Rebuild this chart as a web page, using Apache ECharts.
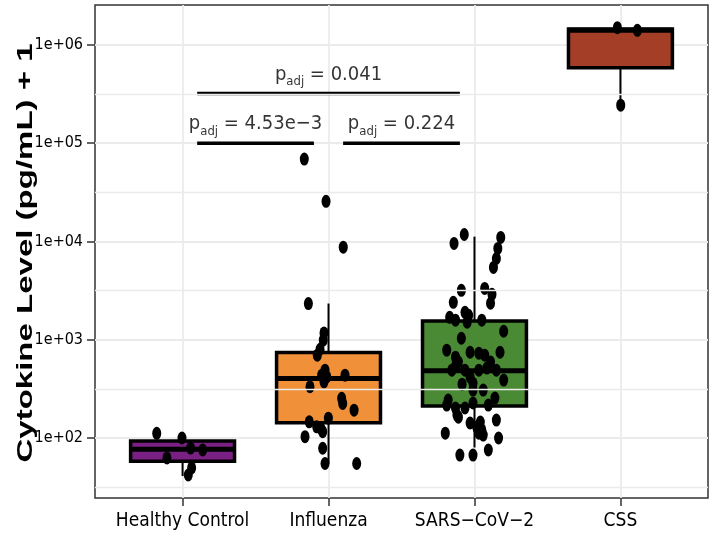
<!DOCTYPE html>
<html>
<head>
<meta charset="utf-8">
<script src="https://cdn.jsdelivr.net/npm/echarts@6/dist/echarts.min.js"></script>
<style>
  html, body { margin: 0; padding: 0; background: #fff; }
  #chart { width: 717px; height: 543px; }
</style>
</head>
<body>
<div id="chart"></div>
<script>
var groups = ['Healthy Control', 'Influenza', 'SARS−CoV−2', 'CSS'];
var boxColors = ['#7a1f83', '#f0913a', '#4a8a35', '#a53e27'];

// [min, Q1, median, Q3, max]
var boxStats = [
  [41, 58, 77, 93, 112],
  [55, 143, 404, 741, 2335],
  [80, 211, 482, 1552, 11200],
  [244000, 586000, 1410000, 1450000, 1500000]
];

// [horizontal jitter, value]
var hcPoints = [
  [-0.177, 111.6], [-0.107, 62.6], [-0.004, 100], [0.055, 79],
  [0.138, 75.5], [0.039, 42], [0.062, 49.6]
];
var fluPoints = [
  [-0.166, 69000], [-0.017, 25600], [0.101, 8750], [-0.138, 2335],
  [-0.031, 1172], [-0.036, 990], [-0.077, 697], [-0.058, 800],
  [-0.024, 490], [-0.047, 436], [-0.012, 419], [-0.031, 373],
  [0.113, 436], [-0.127, 332], [0.09, 253], [0.097, 225],
  [0.175, 192], [-0.132, 146], [-0.081, 130], [-0.001, 159],
  [-0.04, 116], [-0.053, 125], [-0.161, 103], [-0.04, 78.6],
  [-0.024, 55], [0.193, 55]
];
var sarsPoints = [
  [-0.07, 11780], [-0.14, 9550], [0.18, 10990], [0.16, 8490], [0.15, 6710], [0.13, 5440],
  [-0.09, 3180], [-0.145, 2400], [0.07, 3330], [0.12, 2900], [0.11, 2350], [-0.17, 1690],
  [-0.13, 1580], [-0.065, 1900], [-0.04, 1770], [-0.05, 1510], [0.05, 1580],
  [0.2, 1220], [-0.09, 1035], [-0.19, 782], [-0.13, 664], [-0.03, 746], [0.03, 730],
  [0.07, 697], [0.175, 746], [-0.155, 490], [-0.065, 490], [-0.03, 416], [-0.01, 361],
  [0.03, 490], [0.085, 514], [0.15, 490], [0.2, 388], [-0.01, 307], [-0.18, 243],
  [-0.19, 216], [-0.13, 202], [-0.11, 163], [-0.065, 202], [-0.01, 227], [0.095, 216],
  [0.14, 255], [0.15, 152], [-0.03, 142], [0.015, 129], [0.05, 121], [0.06, 107],
  [-0.2, 112], [0.165, 100], [-0.1, 67], [-0.01, 67], [0.095, 75.5], [-0.12, 171],
  [0.04, 145], [0.03, 112], [-0.11, 592], [0.11, 592], [-0.085, 353], [0.06, 307],
  [-0.13, 538]
];
var cssPoints = [
  [-0.021, 1500000], [0.116, 1410000], [0.002, 244000]
];

var yTicks = [1e2, 1e3, 1e4, 1e5, 1e6];
var yMinor = [31.6, 316, 3160, 31600, 316000];
var xTicks = [1, 2, 3, 4];

// [from group position, to group position, level]
var brackets = [
  [1.1, 1.9, 1e5],
  [2.1, 2.9, 1e5],
  [1.1, 2.9, 3.2e5]
];
var pLabels = ['4.53e−3', '0.224', '0.041'];

var FONT = '"DejaVu Sans", sans-serif';
var STRETCH = 'condensed';

var chart = echarts.init(document.getElementById('chart'));

var allPoints = [hcPoints, fluPoints, sarsPoints, cssPoints];
var scatterData = [];
allPoints.forEach(function (pts, g) {
  pts.forEach(function (p) { scatterData.push([g + 1 + p[0], p[1]]); });
});

function renderBox(params, api) {
  var i = api.value(0);
  var half = 0.356;
  var lo = api.coord([i, api.value(1)]);
  var q1 = api.coord([i, api.value(2)]);
  var md = api.coord([i, api.value(3)]);
  var q3 = api.coord([i, api.value(4)]);
  var hi = api.coord([i, api.value(5)]);
  var left = api.coord([i - half, api.value(3)])[0];
  var right = api.coord([i + half, api.value(3)])[0];
  return {
    type: 'group',
    children: [
      { type: 'line', shape: { x1: lo[0], y1: lo[1], x2: q1[0], y2: q1[1] }, style: { stroke: '#000', lineWidth: 2 } },
      { type: 'line', shape: { x1: q3[0], y1: q3[1], x2: hi[0], y2: hi[1] }, style: { stroke: '#000', lineWidth: 2 } },
      { type: 'rect', shape: { x: left, y: q3[1], width: right - left, height: q1[1] - q3[1] },
        style: { fill: boxColors[params.dataIndex], stroke: '#000', lineWidth: 3.5 } },
      { type: 'line', shape: { x1: left, y1: md[1], x2: right, y2: md[1] }, style: { stroke: '#000', lineWidth: 5 } }
    ]
  };
}

var series = [
  {
    type: 'line',
    data: [],
    z: 1,
    silent: true,
    markLine: {
      silent: true,
      symbol: ['none', 'none'],
      label: { show: false },
      lineStyle: { color: '#ebebeb', width: 1.4, type: 'solid' },
      data: yMinor.map(function (v) { return { yAxis: v }; })
    }
  },
  {
    type: 'custom',
    z: 2,
    renderItem: renderBox,
    encode: { x: 0, y: [1, 2, 3, 4, 5] },
    data: boxStats.map(function (s, i) { return [i + 1].concat(s); })
  },
  {
    type: 'scatter',
    z: 3,
    symbol: 'circle',
    symbolSize: [9, 13],
    itemStyle: { color: '#000', opacity: 1 },
    data: scatterData
  }
];

brackets.forEach(function (b) {
  series.push({
    type: 'line',
    z: 4,
    symbol: 'none',
    lineStyle: { color: '#000', width: 3.5 },
    data: [[b[0], b[2]], [b[1], b[2]]]
  });
});

series.push({
  type: 'scatter',
  z: 5,
  symbolSize: 0,
  data: brackets.map(function (b) { return [(b[0] + b[1]) / 2, b[2]]; }),
  label: {
    show: true,
    position: 'top',
    distance: 5,
    color: '#000',
    formatter: function (p) { return '{p|p}{s|adj}{t| = ' + pLabels[p.dataIndex] + '}'; },
    rich: {
      p: { fontFamily: FONT, fontStyle: STRETCH, fontSize: 20, color: '#000', lineHeight: 28 },
      s: { fontFamily: FONT, fontStyle: STRETCH, fontSize: 13, color: '#000', lineHeight: 13, verticalAlign: 'bottom' },
      t: { fontFamily: FONT, fontStyle: STRETCH, fontSize: 20, color: '#000', lineHeight: 28 }
    }
  }
});

chart.setOption({
  animation: false,
  backgroundColor: '#fff',
  grid: {
    left: 95, right: 9, top: 5, bottom: 45,
    show: true, borderColor: '#333', borderWidth: 1.5, backgroundColor: '#fff'
  },
  xAxis: {
    type: 'value',
    min: 0.4,
    max: 4.6,
    axisLine: { show: false, onZero: false },
    axisTick: { show: true, customValues: xTicks, length: 8, lineStyle: { color: '#333', width: 1.5 } },
    axisLabel: {
      customValues: xTicks,
      formatter: function (v) { return groups[Math.round(v) - 1]; },
      fontFamily: FONT, fontStyle: STRETCH, fontSize: 19, color: '#000', margin: 14
    },
    splitLine: { show: true, lineStyle: { color: '#ebebeb', width: 1.8 } }
  },
  yAxis: {
    type: 'log',
    logBase: 10,
    min: 24.5,
    max: 2.55e6,
    axisLine: { show: false, onZero: false },
    axisTick: { show: true, customValues: yTicks, length: 8, lineStyle: { color: '#333', width: 1.5 } },
    axisLabel: {
      customValues: yTicks,
      formatter: function (v) {
        var e = Math.round(Math.log10(v));
        return '1e+' + (e < 10 ? '0' : '') + e;
      },
      fontFamily: FONT, fontStyle: STRETCH, fontSize: 16, color: '#000', margin: 12
    },
    splitLine: { show: true, lineStyle: { color: '#ebebeb', width: 1.8 } }
  },
  graphic: [{
    type: 'text',
    x: 26,
    y: 253,
    rotation: Math.PI / 2,
    scaleX: 1.5,
    style: {
      text: 'Cytokine Level (pg/mL) + 1',
      fontFamily: '"Liberation Sans", Arial, sans-serif',
      fontWeight: 'bold',
      fontSize: 22,
      fill: '#000',
      align: 'center',
      verticalAlign: 'middle'
    }
  }],
  series: series
});
</script>
</body>
</html>
